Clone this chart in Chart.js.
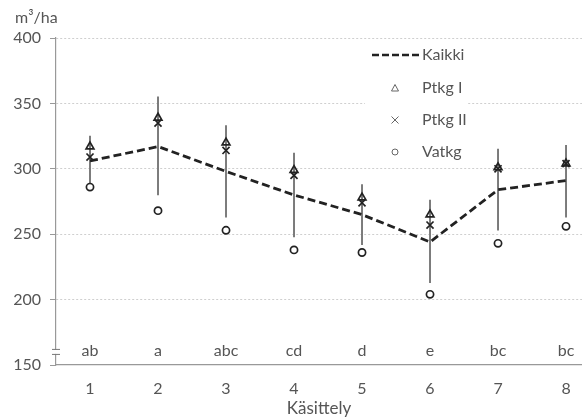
<!DOCTYPE html>
<html><head><meta charset="utf-8">
<script src="https://cdn.jsdelivr.net/npm/chart.js@4"></script>
<style>html,body{margin:0;padding:0;background:#fff;overflow:hidden}#w{width:582px;height:419px}</style>
</head><body><div id="w"><canvas id="c" width="582" height="419"></canvas></div>
<script>
const categories = ['1','2','3','4','5','6','7','8'];
const groupLetters = ['ab','a','abc','cd','d','e','bc','bc'];
const kaikki = [306, 317, 298, 280, 265, 244, 284, 291];
const errLow = [289, 280, 263, 248, 242, 213, 253, 263];
const errHigh = [325, 355, 333, 312, 288, 276, 315, 318];
const ptkgI = [317, 339, 320, 299, 278, 265, 301, 304];
const ptkgII = [309, 335, 314, 295, 274, 257, 300, 304];
const vatkg = [286, 268, 253, 238, 236, 204, 243, 256];
const yTicks = [150, 200, 250, 300, 350, 400];
const yUnit = 'm³/ha';
const xTitle = 'Käsittely';
const legendNames = ['Kaikki', 'Ptkg I', 'Ptkg II', 'Vatkg'];

const FONT = 'Lato, "Noto Sans", sans-serif';
const TXT = '#555';
const FS = 16;
const pts = arr => arr.map((v, i) => ({x: i + 1, y: v}));

const extras = {
  id: 'extras',
  beforeDatasetsDraw(chart) {
    const ctx = chart.ctx;
    ctx.save();
    ctx.fillStyle = '#fff';
    ctx.fillRect(365, 42, 103, 122);
    ctx.restore();
  },
  afterDraw(chart) {
    const ctx = chart.ctx, xs = chart.scales.x, ys = chart.scales.y;
    ctx.save();
    ctx.font = FS + 'px ' + FONT;
    ctx.fillStyle = TXT;
    ctx.textBaseline = 'middle';
    ctx.textAlign = 'left';
    ctx.fillText(yUnit, 15, 18);
    ctx.textAlign = 'center';
    groupLetters.forEach((t, i) => {
      ctx.fillText(t, xs.getPixelForValue(i + 1), ys.getPixelForValue(161));
    });
    const bx = xs.left, by = ys.getPixelForValue(160);
    ctx.fillStyle = '#fff';
    ctx.fillRect(bx - 4, by - 2, 8, 4);
    ctx.strokeStyle = '#777';
    ctx.lineWidth = 1;
    ctx.beginPath();
    ctx.moveTo(bx - 4, by - 2.5); ctx.lineTo(bx + 4, by - 2.5);
    ctx.moveTo(bx - 4, by + 2.5); ctx.lineTo(bx + 4, by + 2.5);
    ctx.stroke();
    const lx = 395, tx = 422, rows = [55, 88, 120, 152];
    ctx.textAlign = 'left';
    ctx.fillStyle = TXT;
    legendNames.forEach((n, i) => ctx.fillText(n, tx, rows[i]));
    ctx.strokeStyle = '#222';
    ctx.lineWidth = 2.5;
    ctx.setLineDash([7, 3]);
    ctx.beginPath(); ctx.moveTo(372, 55); ctx.lineTo(420, 55); ctx.stroke();
    ctx.setLineDash([]);
    ctx.strokeStyle = '#666';
    ctx.lineWidth = 1;
    ctx.beginPath();
    ctx.moveTo(lx, rows[1] - 3.5); ctx.lineTo(lx + 3.5, rows[1] + 3); ctx.lineTo(lx - 3.5, rows[1] + 3); ctx.closePath();
    ctx.stroke();
    ctx.beginPath();
    ctx.moveTo(lx - 3.5, rows[2] - 3.5); ctx.lineTo(lx + 3.5, rows[2] + 3.5);
    ctx.moveTo(lx + 3.5, rows[2] - 3.5); ctx.lineTo(lx - 3.5, rows[2] + 3.5);
    ctx.stroke();
    ctx.beginPath(); ctx.arc(lx, rows[3], 3, 0, Math.PI * 2); ctx.stroke();
    ctx.restore();
  }
};

new Chart(document.getElementById('c'), {
  data: {
    datasets: [
      {type: 'scatter', label: legendNames[1], data: pts(ptkgI), pointStyle: 'triangle', radius: 4.5,
       borderColor: '#222', backgroundColor: 'rgba(0,0,0,0)', borderWidth: 1.7, order: 1},
      {type: 'scatter', label: legendNames[2], data: pts(ptkgII), pointStyle: 'crossRot', radius: 5,
       borderColor: '#222', backgroundColor: 'rgba(0,0,0,0)', borderWidth: 1.7, order: 2},
      {type: 'scatter', label: legendNames[3], data: pts(vatkg), pointStyle: 'circle', radius: 3.6,
       borderColor: '#222', backgroundColor: 'rgba(0,0,0,0)', borderWidth: 1.7, order: 3},
      {type: 'line', label: legendNames[0], data: pts(kaikki), borderColor: '#222', borderWidth: 2.8,
       borderDash: [8, 4], pointRadius: 0, fill: false, tension: 0, order: 5},
      {type: 'bar', label: 'err', data: errLow.map((lo, i) => ({x: i + 1, y: [lo, errHigh[i]]})),
       backgroundColor: '#7a7a7a', borderWidth: 0, barThickness: 1.3, order: 10}
    ]
  },
  options: {
    responsive: false,
    animation: false,
    events: [],
    layout: {autoPadding: false, padding: {top: 38, right: 0, left: 0, bottom: 0}},
    plugins: {legend: {display: false}, tooltip: {enabled: false}},
    scales: {
      x: {
        type: 'linear', min: 0.5, max: 8.235, offset: false,
        afterBuildTicks: s => { s.ticks = categories.map((c, i) => ({value: i + 1})); },
        afterFit: s => { s.height = 54; s.paddingLeft = 0; s.paddingRight = 0; },
        grid: {drawOnChartArea: false, drawTicks: false, offset: false},
        border: {display: true, color: '#999', width: 1.2},
        ticks: {padding: 14, color: TXT, font: {family: FONT, size: FS},
                callback: (v) => categories[Math.round(v) - 1] ?? ''},
        title: {display: true, text: xTitle, color: TXT, font: {family: FONT, size: 17}, padding: {top: 0, bottom: 0}}
      },
      y: {
        type: 'linear', min: 150, max: 400,
        afterBuildTicks: s => { s.ticks = yTicks.map(v => ({value: v})); },
        afterFit: s => { s.width = 56; },
        grid: {color: ctx => (ctx.tick && ctx.tick.value === 150) ? 'rgba(0,0,0,0)' : '#cfcfcf',
               tickColor: '#999', tickLength: 6, lineWidth: 1},
        border: {display: true, color: '#999', width: 1.2, dash: [2, 2]},
        ticks: {padding: 9, color: TXT, font: {family: FONT, size: FS}}
      }
    }
  },
  plugins: [extras]
});
</script>
</body></html>
